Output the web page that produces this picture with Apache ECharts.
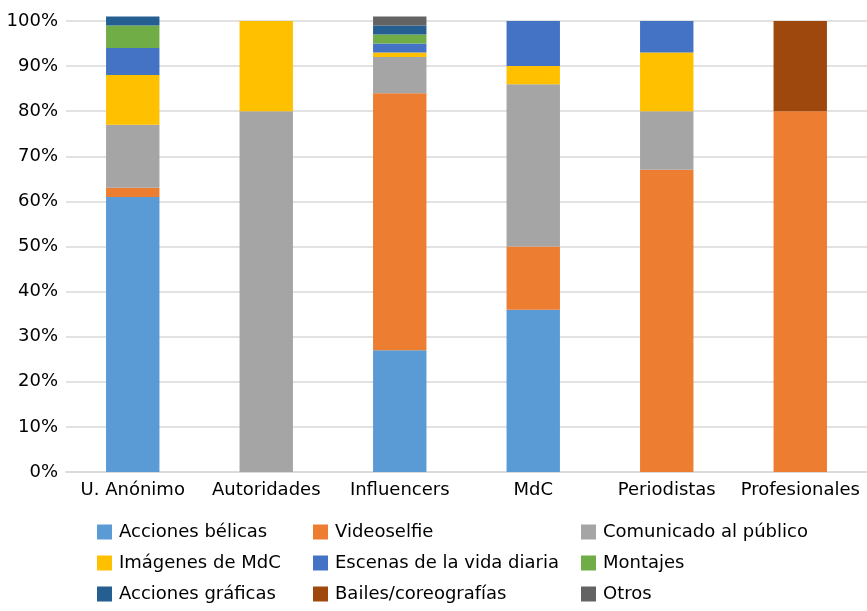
<!DOCTYPE html>
<html><head><meta charset="utf-8">
<script src="https://cdn.jsdelivr.net/npm/echarts@6/dist/echarts.min.js"></script>
<style>html,body{margin:0;padding:0;background:#fff}#c{width:867px;height:611px}</style>
</head><body><div id="c"></div>
<script>
const categories = ['U. Anónimo','Autoridades','Influencers','MdC','Periodistas','Profesionales'];
const seriesNames = ['Acciones bélicas','Videoselfie','Comunicado al público','Imágenes de MdC','Escenas de la vida diaria','Montajes','Acciones gráficas','Bailes/coreografías','Otros'];
const accionesBelicas = [61, 0, 27, 36, 0, 0];
const videoselfie = [2, 0, 57, 14, 67, 80];
const comunicado = [14, 80, 8, 36, 13, 0];
const imagenesMdC = [11, 20, 1, 4, 13, 0];
const escenas = [6, 0, 2, 10, 7, 0];
const montajes = [5, 0, 2, 0, 0, 0];
const accionesGraficas = [2, 0, 2, 0, 0, 0];
const bailes = [0, 0, 0, 0, 0, 20];
const otros = [0, 0, 2, 0, 0, 0];
const yTicks = [0,10,20,30,40,50,60,70,80,90,100];
const colors = ['#5B9BD5','#ED7D31','#A5A5A5','#FFC000','#4472C4','#70AD47','#255E91','#9E480E','#636363'];
const values = [accionesBelicas, videoselfie, comunicado, imagenesMdC, escenas, montajes, accionesGraficas, bailes, otros];

const font = 'DejaVu Sans, sans-serif';
const chart = echarts.init(document.getElementById('c'));
const legendBase = {orient:'vertical', top:523, padding:0, height:88, itemWidth:15, itemHeight:15, itemGap:13,
  icon:'rect', textStyle:{fontSize:18, lineHeight:18, color:'#000', fontFamily:font, padding:[0,0,0,2]}, selectedMode:false};
chart.setOption({
  animation:false,
  color: colors,
  grid:{left:66, top:21, width:804, bottom:139, containLabel:false},
  legend:[
    Object.assign({}, legendBase, {left:97, data:[seriesNames[0], seriesNames[3], seriesNames[6]]}),
    Object.assign({}, legendBase, {left:313, data:[seriesNames[1], seriesNames[4], seriesNames[7]]}),
    Object.assign({}, legendBase, {left:581, data:[seriesNames[2], seriesNames[5], seriesNames[8]]})
  ],
  xAxis:{type:'category', data:categories,
    axisLine:{lineStyle:{color:'#d9d9d9', width:1.5}}, axisTick:{show:false},
    axisLabel:{fontSize:18, color:'#000', fontFamily:font, margin:9, interval:0}},
  yAxis:{type:'value', min:0, max:100, interval:10,
    axisLabel:{fontSize:18, color:'#000', fontFamily:font, margin:8, formatter: v => yTicks.includes(v) ? v + '%' : ''},
    axisLine:{show:false}, axisTick:{show:false},
    splitLine:{lineStyle:{color:'#d9d9d9', width:1.5}}},
  series: seriesNames.map((n,i)=>({
    name:n, type:'bar', stack:'total', barWidth:'40%', clip:false,
    data: values[i].map(v => v === 0 ? null : v),
    itemStyle:{color:colors[i]}
  }))
});
</script></body></html>
